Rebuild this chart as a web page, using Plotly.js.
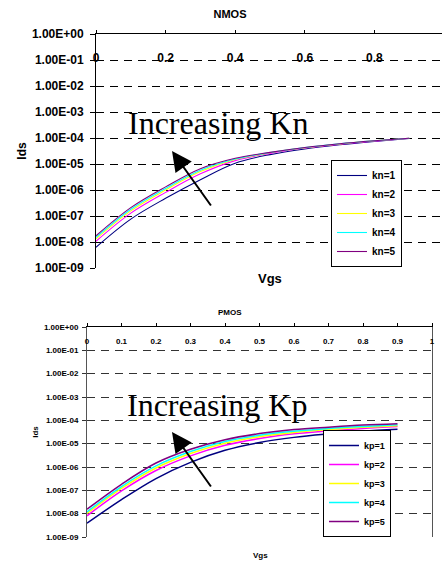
<!DOCTYPE html>
<html>
<head>
<meta charset="utf-8">
<script src="https://cdn.plot.ly/plotly-3.0.1.min.js"></script>
<style>html,body{margin:0;padding:0;background:#fff;}#chart{width:442px;height:561px;}</style>
</head>
<body>
<div id="chart"></div>
<script>
// ---- data ----
const vgs = [0, 0.1, 0.2, 0.3, 0.4, 0.5, 0.6, 0.7, 0.8, 0.9];

const nmosNames = ['kn=1', 'kn=2', 'kn=3', 'kn=4', 'kn=5'];
const kn1 = [6.3e-9, 7.6e-8, 4.8e-7, 2.5e-6, 1.07e-5, 2.3e-5, 3.8e-5, 5.5e-5, 7.4e-5, 9.6e-5];
const kn2 = [1.07e-8, 1.29e-7, 8.1e-7, 4.2e-6, 1.35e-5, 2.57e-5, 4.1e-5, 5.75e-5, 7.6e-5, 9.8e-5];
const kn3 = [1.32e-8, 1.58e-7, 1.0e-6, 5.1e-6, 1.48e-5, 2.7e-5, 4.2e-5, 5.9e-5, 7.8e-5, 9.8e-5];
const kn4 = [1.51e-8, 1.82e-7, 1.15e-6, 5.75e-6, 1.55e-5, 2.75e-5, 4.3e-5, 6.0e-5, 7.8e-5, 9.8e-5];
const kn5 = [1.74e-8, 2.1e-7, 1.32e-6, 6.6e-6, 1.66e-5, 2.8e-5, 4.3e-5, 6.0e-5, 7.8e-5, 9.8e-5];

const pmosNames = ['kp=1', 'kp=2', 'kp=3', 'kp=4', 'kp=5'];
const kp1 = [3.9e-9, 4.0e-8, 3.2e-7, 1.58e-6, 5.2e-6, 1.12e-5, 1.86e-5, 2.6e-5, 3.4e-5, 4.1e-5];
const kp2 = [8.1e-9, 9.5e-8, 7.1e-7, 3.0e-6, 8.5e-6, 1.66e-5, 2.63e-5, 3.55e-5, 4.5e-5, 5.4e-5];
const kp3 = [1.02e-8, 1.2e-7, 9.1e-7, 3.8e-6, 1.05e-5, 2.0e-5, 3.0e-5, 4.0e-5, 5.0e-5, 5.9e-5];
const kp4 = [1.2e-8, 1.45e-7, 1.12e-6, 4.6e-6, 1.23e-5, 2.3e-5, 3.4e-5, 4.5e-5, 5.5e-5, 6.5e-5];
const kp5 = [1.55e-8, 1.82e-7, 1.48e-6, 5.75e-6, 1.48e-5, 2.7e-5, 4.0e-5, 5.1e-5, 6.3e-5, 7.2e-5];

const seriesColors = ['#000080', '#FF00FF', '#FFFF00', '#00FFFF', '#800080'];

const yTickVals = [1, 1e-1, 1e-2, 1e-3, 1e-4, 1e-5, 1e-6, 1e-7, 1e-8, 1e-9];
const yTickText = ['1.00E+00', '1.00E-01', '1.00E-02', '1.00E-03', '1.00E-04', '1.00E-05', '1.00E-06', '1.00E-07', '1.00E-08', '1.00E-09'];
const nmosXTickVals = [0, 0.2, 0.4, 0.6, 0.8, 1];
const nmosXTickText = ['0', '0.2', '0.4', '0.6', '0.8', '1'];
const pmosXTickVals = [0, 0.1, 0.2, 0.3, 0.4, 0.5, 0.6, 0.7, 0.8, 0.9, 1];
const pmosXTickText = ['0', '0.1', '0.2', '0.3', '0.4', '0.5', '0.6', '0.7', '0.8', '0.9', '1'];

// ---- build ----
const F = 'Liberation Sans, Arial, sans-serif';
const SERIF = 'Liberation Serif, Times New Roman, serif';
const W = 442, H = 561;
const px = v => v / W;
const py = v => 1 - v / H;

const traces = [];
[kn1, kn2, kn3, kn4, kn5].forEach((ys, i) => {
  traces.push({x: vgs, y: ys, name: nmosNames[i], type: 'scatter', mode: 'lines',
    line: {color: seriesColors[i], width: 1.1, shape: 'spline', smoothing: 1},
    xaxis: 'x', yaxis: 'y', legend: 'legend'});
});
[kp1, kp2, kp3, kp4, kp5].forEach((ys, i) => {
  traces.push({x: vgs, y: ys, name: pmosNames[i], type: 'scatter', mode: 'lines',
    line: {color: seriesColors[i], width: 1.5, shape: 'spline', smoothing: 1},
    xaxis: 'x2', yaxis: 'y2', legend: 'legend2'});
});

function ann(text, x, y, font) {
  return {text: text, xref: 'paper', yref: 'paper', x: px(x), y: py(y),
    xanchor: 'center', yanchor: 'middle', showarrow: false, font: font};
}

const layout = {
  width: W, height: H,
  margin: {l: 0, r: 0, t: 0, b: 0},
  paper_bgcolor: '#fff', plot_bgcolor: '#fff',
  showlegend: true,
  title: {text: 'NMOS', font: {family: F, size: 11, weight: 'bold', color: '#000'},
    x: px(230), xanchor: 'center', y: py(14), yanchor: 'middle'},
  xaxis: {
    domain: [px(96), 1], range: [0, 346 / 348], anchor: 'y', side: 'top',
    showline: true, linecolor: '#000', linewidth: 1,
    ticks: 'outside', ticklen: 3, tickcolor: '#000',
    ticklabelposition: 'outside', ticklabelstandoff: -37,
    tickmode: 'array', tickvals: nmosXTickVals, ticktext: nmosXTickText,
    tickfont: {family: F, size: 12, weight: 'bold', color: '#000'},
    showgrid: false, zeroline: false, fixedrange: true
  },
  yaxis: {
    domain: [py(268), py(34)], type: 'log', range: [-9, 0], anchor: 'x',
    showline: true, linecolor: '#000', linewidth: 1,
    ticks: 'outside', ticklen: 5, tickcolor: '#000', ticklabelstandoff: 4,
    tickmode: 'array', tickvals: yTickVals, ticktext: yTickText,
    tickfont: {family: F, size: 12, weight: 'bold', color: '#000'},
    showgrid: true, gridcolor: '#000', gridwidth: 1, griddash: '8px,6px',
    zeroline: false, fixedrange: true,
    title: {text: 'Ids', font: {family: F, size: 12, weight: 'bold', color: '#000'}, standoff: 2}
  },
  xaxis2: {
    domain: [px(87), px(432)], range: [0, 1], anchor: 'y2', side: 'top',
    showline: true, linecolor: '#000', linewidth: 1,
    ticks: 'outside', ticklen: 3, tickcolor: '#000',
    ticklabelposition: 'outside', ticklabelstandoff: -24,
    tickmode: 'array', tickvals: pmosXTickVals, ticktext: pmosXTickText,
    tickfont: {family: F, size: 8, weight: 'bold', color: '#000'},
    showgrid: false, zeroline: false, fixedrange: true
  },
  yaxis2: {
    domain: [py(537), py(327)], type: 'log', range: [-9, 0], anchor: 'x2',
    showline: true, linecolor: '#555', linewidth: 1, mirror: true,
    ticks: 'outside', ticklen: 4, tickcolor: '#333', ticklabelstandoff: 2,
    tickmode: 'array', tickvals: yTickVals, ticktext: yTickText,
    tickfont: {family: F, size: 8, weight: 'bold', color: '#000'},
    showgrid: true, gridcolor: '#333', gridwidth: 1, griddash: '8px,6px',
    zeroline: false, fixedrange: true,
    title: {text: 'Ids', font: {family: F, size: 8, weight: 'bold', color: '#000'}, standoff: 4}
  },
  legend: {
    x: px(402), xanchor: 'right', y: py(160), yanchor: 'top',
    bgcolor: '#fff', bordercolor: '#000', borderwidth: 1,
    font: {family: F, size: 10, weight: 'bold', color: '#000'},
    tracegroupgap: 0, itemwidth: 30
  },
  legend2: {
    x: px(391), xanchor: 'right', y: py(430), yanchor: 'top',
    bgcolor: '#fff', bordercolor: '#000', borderwidth: 1,
    font: {family: F, size: 9, weight: 'bold', color: '#000'},
    tracegroupgap: 0, itemwidth: 30
  },
  annotations: [
    ann('Vgs', 270, 278, {family: F, size: 13, weight: 'bold', color: '#000'}),
    ann('PMOS', 230, 312, {family: F, size: 8, weight: 'bold', color: '#000'}),
    ann('Vgs', 260, 555, {family: F, size: 8, weight: 'bold', color: '#000'}),
    ann('Increasing Kn', 217.5, 123, {family: SERIF, size: 32, color: '#000'}),
    ann('Increasing Kp', 217, 405, {family: SERIF, size: 32, color: '#000'}),
    {text: '', xref: 'paper', yref: 'paper', x: px(172), y: py(151), showarrow: true,
      ax: 40, ay: 56, arrowhead: 2, arrowsize: 2, arrowwidth: 2, arrowcolor: '#000'},
    {text: '', xref: 'paper', yref: 'paper', x: px(172), y: py(432), showarrow: true,
      ax: 40, ay: 56, arrowhead: 2, arrowsize: 2, arrowwidth: 2, arrowcolor: '#000'}
  ]
};

Plotly.newPlot('chart', traces, layout, {staticPlot: true, displayModeBar: false});
</script>
</body>
</html>
